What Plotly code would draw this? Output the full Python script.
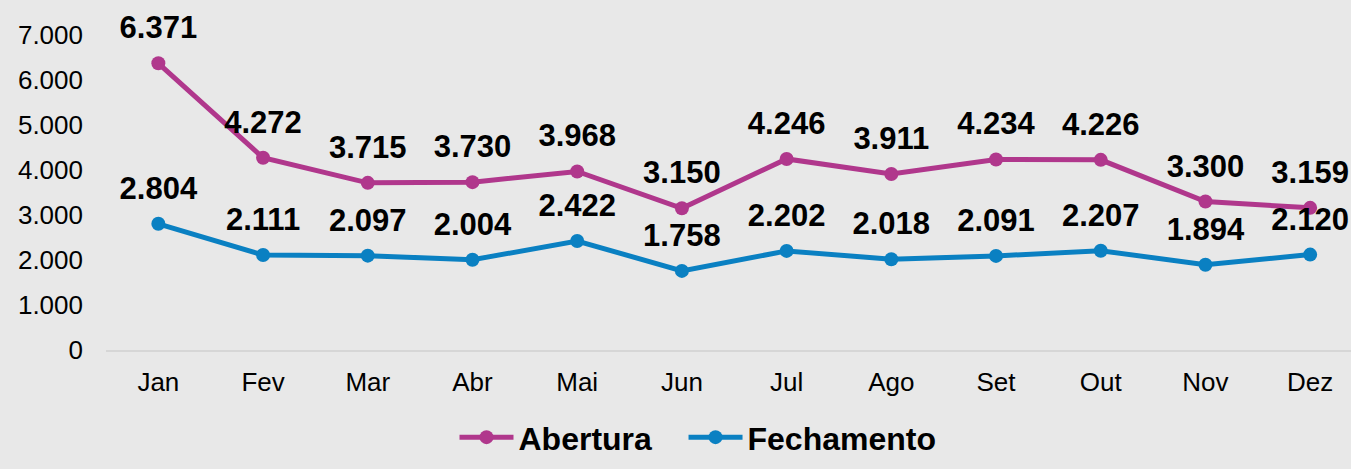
import plotly.graph_objects as go

months = ["Jan", "Fev", "Mar", "Abr", "Mai", "Jun", "Jul", "Ago", "Set", "Out", "Nov", "Dez"]
abertura = [6371, 4272, 3715, 3730, 3968, 3150, 4246, 3911, 4234, 4226, 3300, 3159]
fechamento = [2804, 2111, 2097, 2004, 2422, 1758, 2202, 2018, 2091, 2207, 1894, 2120]
y_ticks = [0, 1000, 2000, 3000, 4000, 5000, 6000, 7000]

c_ab = "#B0378C"
c_fe = "#0A80C2"
font_family = "Liberation Sans, Arial, sans-serif"

fig = go.Figure()
for name, vals, col in [("Abertura&nbsp;&nbsp;&nbsp;", abertura, c_ab), ("Fechamento", fechamento, c_fe)]:
    fig.add_trace(go.Scatter(
        x=months, y=vals, name="<b>" + name + "</b>", mode="lines+markers",
        line=dict(color=col, width=5),
        marker=dict(color=col, size=14),
        cliponaxis=False, hoverinfo="skip",
    ))
for vals in [abertura, fechamento]:
    fig.add_trace(go.Scatter(
        x=months, y=vals, mode="markers+text", showlegend=False,
        marker=dict(size=26, opacity=0),
        texttemplate="<b>%{y:,.0f}</b>",
        textposition="top center",
        textfont=dict(size=31, color="#000000", family=font_family),
        cliponaxis=False, hoverinfo="skip",
    ))

fig.update_layout(
    width=1351, height=469,
    paper_bgcolor="#E8E8E8", plot_bgcolor="#E8E8E8",
    separators=",.",
    margin=dict(l=106, r=0, t=35, b=119),
    font=dict(family=font_family, color="#000000"),
    showlegend=True,
    legend=dict(
        orientation="h", x=0.4755, xanchor="center", y=-0.19, yanchor="top",
        font=dict(size=32, color="#000000", family=font_family),
        bgcolor="rgba(0,0,0,0)", itemwidth=54, tracegroupgap=0,
    ),
    xaxis=dict(
        range=[-0.5, 11.39], showgrid=False, zeroline=False,
        showline=True, linecolor="#D6D6D6", linewidth=2,
        tickfont=dict(size=26, color="#000000"), ticks="", ticklabelstandoff=8,
    ),
    yaxis=dict(
        range=[0, 7000], tickvals=y_ticks, tickformat=",d",
        showgrid=False, zeroline=False, showline=False,
        tickfont=dict(size=26, color="#000000"), ticks="", ticklabelstandoff=22,
    ),
)

fig.write_html(
    "out.html",
    config={"displayModeBar": False},
    post_script="document.body.style.margin='0';document.body.style.background='#E8E8E8';",
)
